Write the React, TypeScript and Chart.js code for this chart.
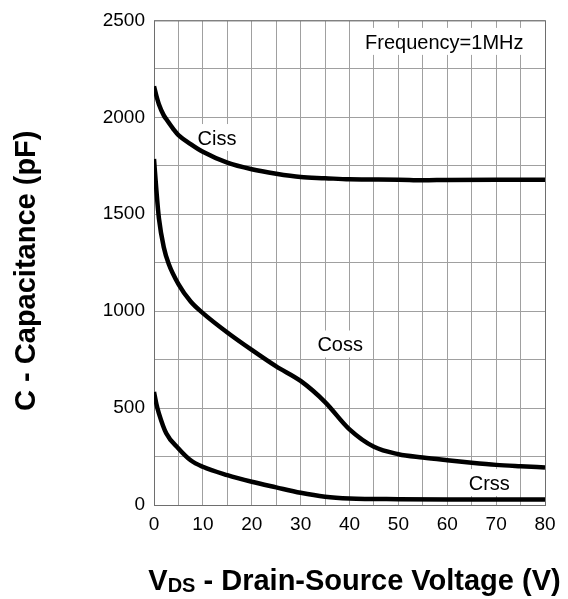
import React, { useEffect, useRef } from 'react';
import { Chart, registerables } from 'chart.js';

Chart.register(...registerables);

const FONT = '"Liberation Sans", Arial, Helvetica, sans-serif';

// Drain-source voltage (V) sample points and capacitances (pF)
const cissV = [0, 0.5, 1, 2, 2.5, 4, 5, 7.5, 10, 15, 20, 25, 30, 35, 40, 50, 55, 60, 70, 80];
const cissC = [2160, 2110, 2068, 2010, 1991, 1938, 1908, 1862, 1822, 1766, 1732, 1709, 1692, 1686, 1680, 1678, 1675, 1677, 1678, 1678];

const cossV = [0, 0.5, 1, 2, 3, 5, 7.5, 10, 15, 20, 25, 30, 35, 40, 45, 50, 55, 60, 65, 70, 75, 80];
const cossC = [1785, 1620, 1480, 1330, 1245, 1140, 1050, 990, 890, 800, 715, 640, 531, 390, 300, 262, 245, 231, 218, 207, 200, 194];

const crssV = [0, 0.5, 1, 2.5, 5, 7.5, 10, 15, 20, 25, 30, 35, 40, 50, 60, 70, 80];
const crssC = [583, 520, 473, 370, 292, 231, 197, 154, 120, 91, 63, 43, 34, 30, 29, 29, 29];

// Axis ranges and tick steps
const xMin = 0;
const xMax = 80;
const xGridStep = 5;
const xLabelStep = 10;
const yMin = 0;
const yMax = 2500;
const yGridStep = 250;
const yLabelStep = 500;

// In-plot text labels, anchored in data coordinates (V, pF) at text baseline centre
const labelTexts = ['Ciss', 'Coss', 'Crss', 'Frequency=1MHz'];
const labelV = [12.9, 38.1, 68.6, 59.4];
const labelC = [1857, 792, 77, 2353];

const xTitleMain = 'V';
const xTitleSub = 'DS';
const xTitleRest = ' - Drain-Source Voltage (V)';
const yTitle = 'C - Capacitance (pF)';

const toPoints = (xs: number[], ys: number[]) => xs.map((x, i) => ({ x, y: ys[i] }));

const decorPlugin = {
  id: 'decor',
  beforeDatasetsDraw(chart: any) {
    const { ctx, chartArea: a, scales } = chart;
    ctx.save();
    ctx.strokeStyle = '#6e6e6e';
    ctx.lineWidth = 1;
    ctx.strokeRect(a.left + 0.5, a.top + 0.5, a.right - a.left, a.bottom - a.top);
    ctx.font = `20px ${FONT}`;
    ctx.textAlign = 'center';
    ctx.textBaseline = 'alphabetic';
    labelTexts.forEach((t, i) => {
      const cx = scales.x.getPixelForValue(labelV[i]);
      const by = scales.y.getPixelForValue(labelC[i]);
      const w = ctx.measureText(t).width;
      ctx.fillStyle = '#ffffff';
      ctx.fillRect(cx - w / 2 - 4, by - 21, w + 8, 27);
      ctx.fillStyle = '#000000';
      ctx.fillText(t, cx, by);
    });
    ctx.restore();
  },
  afterDraw(chart: any) {
    const { ctx, chartArea: a } = chart;
    ctx.save();
    ctx.fillStyle = '#000000';
    ctx.textBaseline = 'alphabetic';
    // x title with subscript
    const bigFont = `bold 29px ${FONT}`;
    const subFont = `bold 20px ${FONT}`;
    ctx.font = bigFont;
    const w1 = ctx.measureText(xTitleMain).width;
    const w3 = ctx.measureText(xTitleRest).width;
    ctx.font = subFont;
    const w2 = ctx.measureText(xTitleSub).width;
    const total = w1 + w2 + w3;
    const cx = (a.left + a.right) / 2 + 5;
    let x0 = cx - total / 2;
    const base = 590;
    ctx.textAlign = 'left';
    ctx.font = bigFont;
    ctx.fillText(xTitleMain, x0, base);
    x0 += w1;
    ctx.font = subFont;
    ctx.fillText(xTitleSub, x0, base + 2);
    x0 += w2;
    ctx.font = bigFont;
    ctx.fillText(xTitleRest, x0, base);
    // y title
    ctx.translate(35, (a.top + a.bottom) / 2 + 8);
    ctx.rotate(-Math.PI / 2);
    ctx.textAlign = 'center';
    ctx.font = bigFont;
    ctx.fillText(yTitle, 0, 0);
    ctx.restore();
  },
};

export default function App() {
  const canvasRef = useRef<HTMLCanvasElement | null>(null);

  useEffect(() => {
    const canvas = canvasRef.current;
    if (!canvas) return;
    const line = (data: { x: number; y: number }[]) => ({
      data,
      borderColor: '#000000',
      borderWidth: 4.5,
      pointRadius: 0,
      fill: false,
      cubicInterpolationMode: 'monotone' as const,
    });
    const chart = new Chart(canvas, {
      type: 'line',
      data: {
        datasets: [
          { label: 'Ciss', ...line(toPoints(cissV, cissC)) },
          { label: 'Coss', ...line(toPoints(cossV, cossC)) },
          { label: 'Crss', ...line(toPoints(crssV, crssC)) },
        ],
      },
      options: {
        responsive: false,
        animation: false,
        devicePixelRatio: 1,
        layout: { padding: { top: 19, right: 23, left: 0, bottom: 0 } },
        plugins: {
          legend: { display: false },
          tooltip: { enabled: false },
        },
        scales: {
          x: {
            type: 'linear',
            min: xMin,
            max: xMax,
            afterFit: (s: any) => {
              s.height = 94;
            },
            grid: { color: '#a0a0a0', lineWidth: 1, drawTicks: false },
            border: { display: false },
            ticks: {
              stepSize: xGridStep,
              autoSkip: false,
              maxRotation: 0,
              padding: 8,
              color: '#000000',
              font: { family: FONT, size: 19 },
              callback: (v: any) => (Number(v) % xLabelStep === 0 ? String(v) : ''),
            },
          },
          y: {
            type: 'linear',
            min: yMin,
            max: yMax,
            afterFit: (s: any) => {
              s.width = 154;
            },
            grid: { color: '#a0a0a0', lineWidth: 1, drawTicks: false },
            border: { display: false },
            ticks: {
              stepSize: yGridStep,
              autoSkip: false,
              padding: 9,
              color: '#000000',
              font: { family: FONT, size: 19 },
              callback: (v: any) => (Number(v) % yLabelStep === 0 ? String(v) : ''),
            },
          },
        },
      },
      plugins: [decorPlugin],
    });
    return () => chart.destroy();
  }, []);

  return (
    <div style={{ position: 'absolute', left: 0, top: 0, width: 568, height: 599, background: '#ffffff' }}>
      <canvas ref={canvasRef} width={568} height={599} style={{ display: 'block' }} />
    </div>
  );
}
